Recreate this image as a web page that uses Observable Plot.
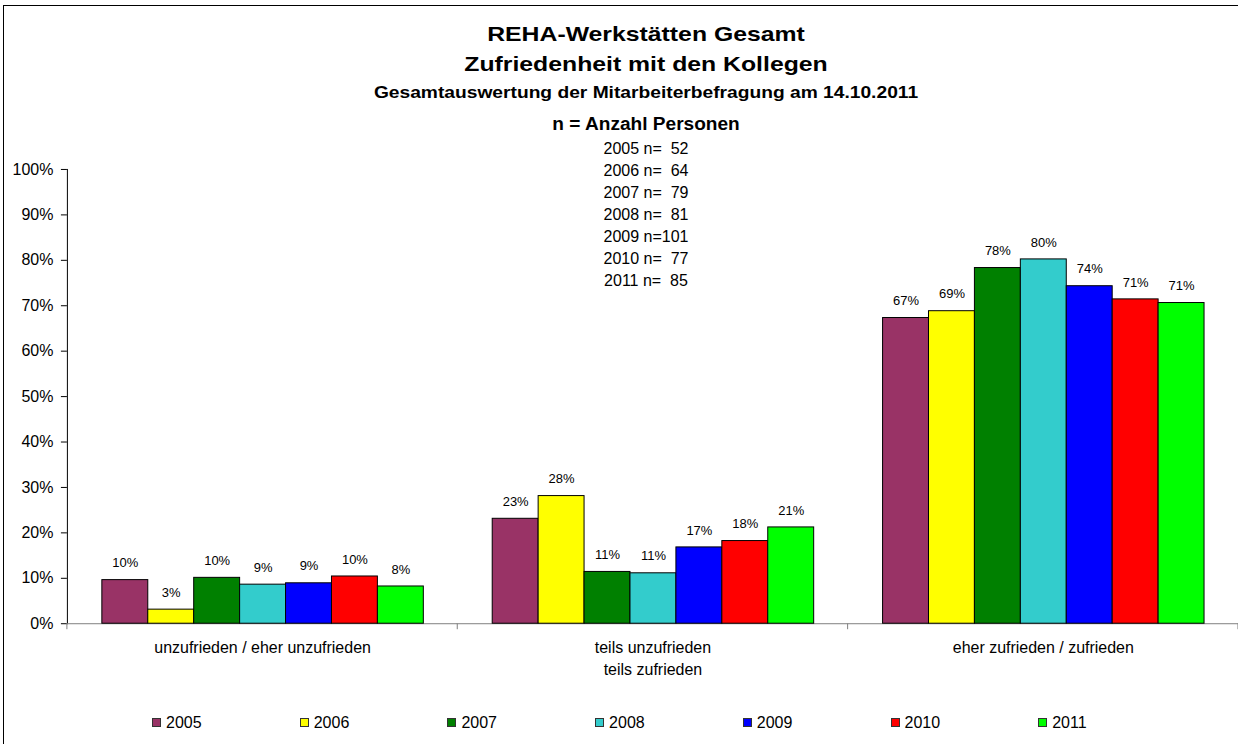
<!DOCTYPE html>
<html>
<head>
<meta charset="utf-8">
<script src="https://cdn.jsdelivr.net/npm/d3@7"></script>
<script src="https://cdn.jsdelivr.net/npm/@observablehq/plot@0.6"></script>
<style>
  body { margin: 0; background: #fff; font-family: "Liberation Sans", Arial, sans-serif; color: #000; }
  #page { position: relative; width: 1238px; height: 744px; overflow: hidden; background: #fff; }
  #frame { position: absolute; left: 3px; top: 5px; width: 1300px; height: 800px; border: 1px solid #000; box-sizing: border-box; }
  .t { position: absolute; left: 0; width: 1292px; text-align: center; font-weight: bold; white-space: nowrap; }
  #chart { position: absolute; left: 0; top: 150px; }
  #nlist { position: absolute; left: 0; width: 1292px; top: 138px; text-align: center; font-size: 16px; line-height: 22px; white-space: pre; }
  #legend { position: absolute; left: 152px; top: 713px; height: 20px; font-size: 16px; line-height: 20px; }
  .li { position: absolute; top: 0; white-space: nowrap; }
  .sw { display: inline-block; width: 7px; height: 7px; border: 1px solid #333; vertical-align: middle; margin-right: 5px; position: relative; top: -1px; }
</style>
</head>
<body>
<div id="page">
  <div id="frame"></div>
  <div class="t" style="top:23px;font-size:21px;line-height:21px;transform:scaleX(1.18);">REHA-Werkstätten Gesamt</div>
  <div class="t" style="top:53px;font-size:21px;line-height:21px;transform:scaleX(1.18);">Zufriedenheit mit den Kollegen</div>
  <div class="t" style="top:85px;font-size:16px;line-height:16px;transform:scaleX(1.2);">Gesamtauswertung der Mitarbeiterbefragung am 14.10.2011</div>
  <div class="t" style="top:115px;font-size:18px;line-height:18px;transform:scaleX(1.06);">n = Anzahl Personen</div>
  <div id="chart"></div>
  <div id="nlist"></div>
  <div id="legend"></div>
</div>
<script>
// ---- data ----
const categories = ["unzufrieden / eher unzufrieden", "teils unzufrieden teils zufrieden", "eher zufrieden / zufrieden"];
const categoryLabels = ["unzufrieden / eher unzufrieden", "teils unzufrieden\nteils zufrieden", "eher zufrieden / zufrieden"];
const years = ["2005", "2006", "2007", "2008", "2009", "2010", "2011"];
const colors = ["#993366", "#FFFF00", "#008000", "#33CCCC", "#0000FF", "#FF0000", "#00FF00"];
const nCounts = [52, 64, 79, 81, 101, 77, 85];
// values per year, in category order
const v2005 = [0.096, 0.231, 0.673];
const v2006 = [0.031, 0.281, 0.688];
const v2007 = [0.101, 0.114, 0.783];
const v2008 = [0.086, 0.111, 0.802];
const v2009 = [0.089, 0.168, 0.743];
const v2010 = [0.104, 0.182, 0.714];
const v2011 = [0.082, 0.212, 0.706];
const yTicks = [0, 0.1, 0.2, 0.3, 0.4, 0.5, 0.6, 0.7, 0.8, 0.9, 1.0];

const series = [v2005, v2006, v2007, v2008, v2009, v2010, v2011];
const table = [];
categories.forEach((c, i) => years.forEach((y, j) => table.push({cat: c, year: y, value: series[j][i]})));
const labelOf = new Map(categories.map((c, i) => [c, categoryLabels[i]]));

const FONT = '"Liberation Sans", Arial, sans-serif';

const plot = Plot.plot({
  width: 1240,
  height: 534,
  marginLeft: 67,
  marginRight: 0,
  marginTop: 19,
  marginBottom: 60,
  style: {fontFamily: FONT, fontSize: "16px", color: "#000", background: "transparent", overflow: "visible"},
  fx: {domain: categories, padding: 0, label: null},
  x: {domain: years, axis: null, paddingInner: 0, paddingOuter: 0.68},
  y: {domain: [0, 1], ticks: yTicks, tickFormat: d3.format(".0%"), label: null, tickSize: 6, tickPadding: 8, line: true},
  color: {domain: years, range: colors},
  marks: [
    Plot.axisFx({anchor: "bottom", tickSize: 0, tickPadding: 14, fontSize: 16, lineHeight: 1.375, tickFormat: (d) => labelOf.get(d), label: null}),
    Plot.ruleY([0], {stroke: "#808080", strokeWidth: 1}),
    Plot.barY(table, {fx: "cat", x: "year", y: "value", fill: "year", stroke: "#000", strokeWidth: 1}),
    Plot.text(table, {fx: "cat", x: "year", y: "value", text: (d) => Math.round(d.value * 100) + "%", dy: -17, fontSize: 13, fill: "#000"})
  ]
});
document.getElementById("chart").appendChild(plot);

// category boundary ticks (Excel-style), placed with the plot's own scales
const fx = plot.scale("fx");
const yS = plot.scale("y");
const y0 = yS.apply(0);
const edges = categories.map((c) => fx.apply(c)).concat([fx.apply(categories[categories.length - 1]) + fx.bandwidth]);
d3.select(plot).append("g").selectAll("line").data(edges).join("line")
  .attr("x1", (d) => d).attr("x2", (d) => d)
  .attr("y1", y0).attr("y2", y0 + 6)
  .attr("stroke", "#808080");

// n list
document.getElementById("nlist").textContent = years.map((y, i) => {
  const s = String(nCounts[i]);
  return y + " n=" + "  ".repeat(3 - s.length) + s;
}).join("\n");

// legend
const leg = d3.select("#legend");
years.forEach((y, i) => {
  const item = leg.append("div").attr("class", "li").style("left", (i * 147.7) + "px");
  item.append("span").attr("class", "sw").style("background", colors[i]);
  item.append("span").text(y);
});
</script>
</body>
</html>
